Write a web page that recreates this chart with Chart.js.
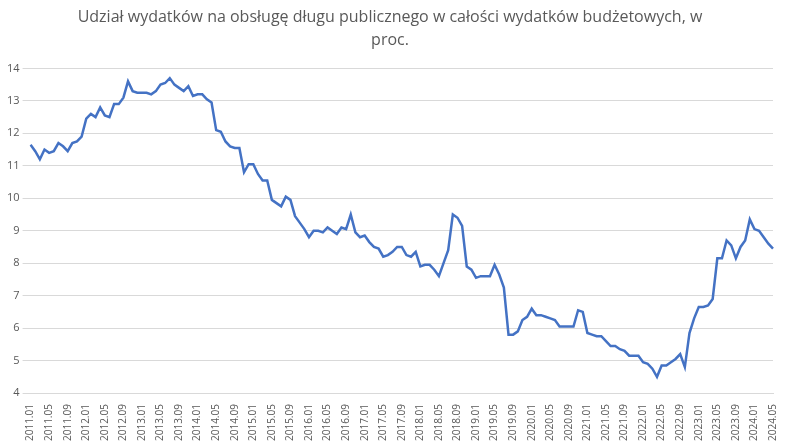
<!DOCTYPE html>
<html>
<head>
<meta charset="utf-8">
<script src="https://cdn.jsdelivr.net/npm/chart.js@4"></script>
<style>
  html, body { margin: 0; padding: 0; background: #fff; }
  #wrap { width: 788px; height: 446px; }
</style>
</head>
<body>
<div id="wrap"><canvas id="chart"></canvas></div>
<script>
'use strict';

const years = [2011, 2012, 2013, 2014, 2015, 2016, 2017, 2018, 2019, 2020, 2021, 2022, 2023, 2024];
const labels = [];
years.forEach((y) => {
  const last = y === 2024 ? 5 : 12;
  for (let m = 1; m <= last; m++) labels.push(`${y}.${String(m).padStart(2, '0')}`);
});

const values = [
  11.65, 11.45, 11.2, 11.5, 11.4, 11.45, 11.7, 11.6, 11.45, 11.7, 11.75, 11.9,
  12.45, 12.6, 12.5, 12.8, 12.55, 12.5, 12.9, 12.9, 13.1, 13.6, 13.3, 13.25,
  13.25, 13.25, 13.2, 13.3, 13.5, 13.55, 13.7, 13.5, 13.4, 13.3, 13.45, 13.15,
  13.2, 13.2, 13.05, 12.95, 12.1, 12.05, 11.75, 11.6, 11.55, 11.55, 10.8, 11.05,
  11.05, 10.75, 10.55, 10.55, 9.95, 9.85, 9.75, 10.05, 9.95, 9.45, 9.25, 9.05,
  8.8, 9.0, 9.0, 8.95, 9.1, 9.0, 8.9, 9.1, 9.05, 9.5, 8.95, 8.8,
  8.85, 8.65, 8.5, 8.45, 8.2, 8.25, 8.35, 8.5, 8.5, 8.25, 8.2, 8.35,
  7.9, 7.95, 7.95, 7.8, 7.6, 8.0, 8.4, 9.5, 9.4, 9.15, 7.9, 7.8,
  7.55, 7.6, 7.6, 7.6, 7.95, 7.65, 7.25, 5.8, 5.8, 5.9, 6.25, 6.35,
  6.6, 6.4, 6.4, 6.35, 6.3, 6.25, 6.05, 6.05, 6.05, 6.05, 6.55, 6.5,
  5.85, 5.8, 5.75, 5.75, 5.6, 5.45, 5.45, 5.35, 5.3, 5.15, 5.15, 5.15,
  4.95, 4.9, 4.75, 4.5, 4.85, 4.85, 4.95, 5.05, 5.2, 4.8, 5.85, 6.3,
  6.65, 6.65, 6.7, 6.9, 8.15, 8.15, 8.7, 8.55, 8.15, 8.5, 8.7, 9.35,
  9.05, 9.0, 8.8, 8.6, 8.45,
];

const title = ['Udział wydatków na obsługę długu publicznego w całości wydatków budżetowych, w', 'proc.'];
const textColor = '#595959';

new Chart(document.getElementById('chart'), {
  type: 'line',
  data: {
    labels,
    datasets: [{
      data: values,
      borderColor: '#4472c4',
      borderWidth: 2.5,
      pointRadius: 0,
      tension: 0,
    }],
  },
  options: {
    responsive: true,
    maintainAspectRatio: false,
    animation: false,
    layout: { padding: { left: 4, right: 12, top: 0, bottom: 2 } },
    plugins: {
      legend: { display: false },
      tooltip: { enabled: false },
      title: {
        display: true,
        text: title,
        color: textColor,
        font: { family: 'Open Sans', size: 16, weight: 'normal', lineHeight: 1.45 },
        padding: { top: 6, bottom: 16 },
      },
    },
    scales: {
      x: {
        grid: { display: false },
        border: { color: '#d9d9d9' },
        ticks: {
          autoSkip: false,
          maxRotation: 90,
          minRotation: 90,
          color: textColor,
          font: { family: 'Open Sans', size: 10 },
          callback: (v, i) => (i % 4 === 0 ? labels[i] : ''),
        },
      },
      y: {
        min: 4,
        max: 14,
        grid: { color: '#d9d9d9' },
        border: { display: false },
        ticks: {
          stepSize: 1,
          color: textColor,
          font: { family: 'Open Sans', size: 11 },
        },
      },
    },
  },
});
</script>
</body>
</html>
